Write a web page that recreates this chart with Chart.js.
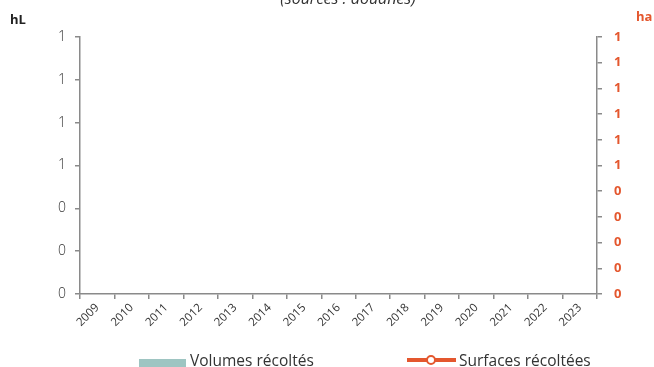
<!DOCTYPE html>
<html>
<head>
<meta charset="utf-8">
<script src="https://cdn.jsdelivr.net/npm/chart.js@4/dist/chart.umd.min.js"></script>
<style>
  html, body { margin: 0; padding: 0; background: #fff; }
  #wrap { position: relative; width: 654px; height: 367px; overflow: hidden; font-family: "Open Sans", sans-serif; }
  canvas { position: absolute; left: 0; top: 0; }
  .note { position: absolute; top: -13px; left: 0; width: 696px; text-align: center; font-size: 16px; font-style: italic; color: #333; }
  .unit { position: absolute; font-size: 13px; font-weight: bold; }
  .legend { position: absolute; top: 352px; height: 16px; line-height: 16px; font-size: 15.5px; color: #333; display: flex; align-items: center; }
</style>
</head>
<body>
<div id="wrap">
  <canvas id="chart" width="654" height="367"></canvas>
  <div class="note">(sources : douanes)</div>
  <div class="unit" style="left:10px; top:10px; color:#222;">hL</div>
  <div class="unit" style="left:636px; top:7px; color:#e4572e;">ha</div>
  <div class="legend" style="left:139px;">
    <span style="position:relative; top:3px; display:inline-block; width:47px; height:9px; background:#9ec5c2; margin-right:4px;"></span>Volumes récoltés
  </div>
  <div class="legend" style="left:407px;">
    <span style="position:relative; display:inline-block; width:49px; height:4px; background:#e4572e; margin-right:3px;">
      <span style="position:absolute; left:19px; top:-3px; width:6px; height:6px; border:2px solid #e4572e; border-radius:50%; background:#fff;"></span>
    </span>Surfaces récoltées
  </div>
</div>
<script>
const years = ["2009", "2010", "2011", "2012", "2013", "2014", "2015", "2016",
  "2017", "2018", "2019", "2020", "2021", "2022", "2023"];
// no values published in the chart: every year is empty
const volumes = [null, null, null, null, null, null, null, null, null, null, null, null, null, null, null];
const surfaces = [null, null, null, null, null, null, null, null, null, null, null, null, null, null, null];

const orange = "#e4572e";
const axisGrey = "#8a8a8a";

new Chart(document.getElementById("chart").getContext("2d"), {
  type: "bar",
  data: {
    labels: years,
    datasets: [
      {
        label: "Volumes récoltés",
        data: volumes,
        backgroundColor: "#9ec5c2",
        yAxisID: "y",
        order: 2,
      },
      {
        type: "line",
        label: "Surfaces récoltées",
        data: surfaces,
        borderColor: orange,
        borderWidth: 4,
        pointBackgroundColor: "#fff",
        pointBorderColor: orange,
        pointRadius: 4,
        yAxisID: "y1",
        order: 1,
      },
    ],
  },
  options: {
    responsive: false,
    animation: false,
    layout: { padding: { left: 0, right: 0, top: 37, bottom: 30 } },
    plugins: {
      legend: { display: false },
      tooltip: { enabled: false },
    },
    scales: {
      x: {
        offset: true,
        grid: { display: true, offset: true, drawOnChartArea: false, tickLength: 5, color: axisGrey, lineWidth: 1.5 },
        border: { color: axisGrey, width: 1.5 },
        ticks: { maxRotation: 45, minRotation: 45, color: "#333", padding: 2, font: { family: "Open Sans", size: 11.5 } },
        afterFit: function (s) { s.height = 43; },
      },
      y: {
        position: "left",
        min: 0,
        max: 1.2,
        grid: { display: true, drawOnChartArea: false, tickLength: 5, color: axisGrey, lineWidth: 1.5 },
        border: { color: axisGrey, width: 1.5 },
        ticks: {
          stepSize: 0.2,
          color: "#333",
          padding: 9,
          font: { family: "Open Sans", size: 14, weight: "300" },
          callback: function (v) { return Math.round(v).toString(); },
        },
        afterFit: function (s) { s.width = 80; },
      },
      y1: {
        position: "right",
        min: 0,
        max: 1,
        grid: { display: true, drawOnChartArea: false, tickLength: 5, color: axisGrey, lineWidth: 1.5 },
        border: { color: axisGrey, width: 1.5 },
        ticks: {
          stepSize: 0.1,
          color: orange,
          padding: 12,
          font: { family: "Open Sans", size: 13, weight: "bold" },
          callback: function (v) { return Math.round(v).toString(); },
        },
        afterFit: function (s) { s.width = 57; },
      },
    },
  },
});
</script>
</body>
</html>
